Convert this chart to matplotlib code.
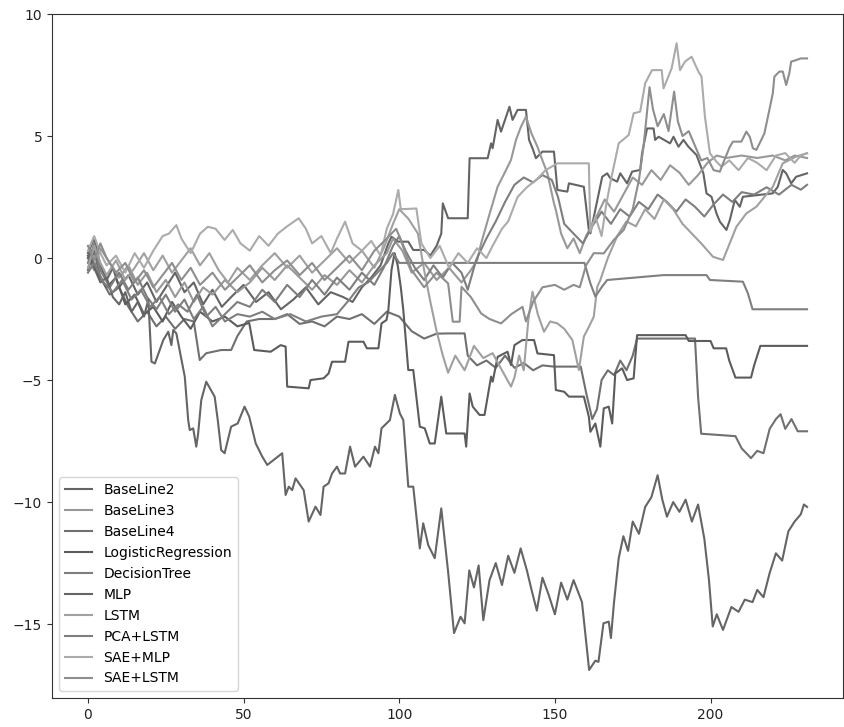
import numpy as np
import matplotlib
matplotlib.use("Agg")
import matplotlib.pyplot as plt

# cumulative return of each strategy, (day, value) pairs
baseline2 = [(0,0.2),(2,0.8),(4,-0.3),(6,-0.9),(8,-0.4),(10,-1.2),(13,-0.7),(16,-1.5),(19,-1.0),(22,-1.8),(25,-1.2),(28,-0.6),(31,-1.4),(34,-1.0),(37,-1.9),(40,-1.3),(43,-2.0),(46,-1.6),(50,-1.1),(54,-1.8),(58,-1.4),(62,-2.1),(66,-1.7),(70,-1.2),(74,-1.9),(78,-1.4),(82,-1.6),(85,-1.8),(88,-1.2),(91,-0.8),(94,-0.3),(96.5,0.6),(97.5,0.87),(99.7,0.67),(102.9,0.67),(104.5,0.33),(108,0.33),(110,0.1),(112,0.5),(113.5,1.0),(114,2.24),(115.7,1.63),(122,1.63),(122.6,4.09),(128.4,4.09),(129.5,4.7),(130,4.5),(131.6,5.66),(132.7,5.18),(135.4,6.2),(136.4,5.66),(138,6.07),(140.7,6.07),(141.7,4.84),(142.8,4.5),(143.9,4.09),(146,4.36),(149.7,4.36),(150.8,2.79),(154,2.72),(154.5,3.06),(159.3,2.92),(160.9,1.15),(161.4,1.01),(165.2,3.33),(166.8,3.47),(167.8,3.27),(170,3.13),(171,3.47),(173.2,3.06),(174.8,3.54),(177.4,3.61),(178,4.29),(179.6,5.31),(181.7,5.31),(182.2,4.84),(183.3,4.97),(187,4.7),(188.1,4.97),(189.7,4.56),(191.3,4.84),(192.9,4.56),(195.5,4.22),(197.7,3.47),(198.7,2.65),(200.3,2.51),(201.9,1.83),(203,1.49),(205.1,1.15),(206.2,1.56),(207.8,2.38),(209.4,2.1),(210.4,2.51),(220,2.65),(221.6,2.92),(223.2,3.61),(224.3,3.47),(225.9,3.06),(227.5,3.33),(231,3.47)]

baseline3 = [(0,0.0),(2,-0.5),(4,0.4),(7,-0.2),(10,-0.8),(13,-0.3),(16,-1.1),(19,-0.6),(22,-1.4),(25,-0.9),(28,-1.6),(31,-1.0),(34,-1.8),(37,-1.2),(40,-1.5),(44,-0.9),(48,-1.4),(52,-1.0),(56,-0.4),(60,-0.9),(64,-0.3),(68,-0.8),(72,-1.3),(76,-0.7),(80,-1.1),(84,-0.5),(88,-1.0),(92,-0.3),(96,0.2),(98,0.8),(101,0.3),(104,-0.6),(108,-0.2),(112,-0.9),(116,-0.4),(120,-1.0),(123,-0.5),(125,-0.1),(126.3,0.6),(129,1.8),(131.6,2.92),(133.5,3.4),(135.9,4.02),(137.5,4.84),(139.1,5.38),(140.7,5.79),(142.5,5.1),(144.4,4.56),(146,4.0),(147.6,3.47),(149.7,2.24),(150.3,1.97),(152,1.0),(154,0.4),(156,0.8),(158,0.2),(160,0.9),(163,1.6),(166,2.4),(169,1.9),(172,2.6),(175,3.3),(178,3.0),(181,3.6),(184,3.2),(187,3.8),(190,3.5),(193,3.0),(196,3.4),(199,3.9),(202,4.2),(205,4.1),(210,4.2),(215,4.1),(220,4.2),(224,4.0),(227,4.2),(231,4.1)]

baseline4 = [(0,-0.5),(2,0.3),(4,-0.8),(7,-1.5),(10,-1.2),(13,-2.0),(16,-2.6),(19,-2.2),(22,-2.8),(25,-2.4),(28,-2.9),(31,-2.5),(34,-2.6),(35.9,-4.18),(38,-3.9),(42.8,-3.77),(46,-3.77),(48,-3.2),(51,-2.6),(55,-2.5),(60,-2.5),(64,-2.3),(68,-2.7),(72,-2.6),(76,-2.8),(80,-2.4),(84,-2.5),(88,-2.3),(92,-2.7),(96,-2.2),(100,-2.4),(104,-3.0),(108,-3.3),(112,-3.1),(115.7,-3.09),(121,-3.09),(122,-4.0),(125,-4.4),(128,-4.2),(131,-4.5),(134,-4.0),(137,-4.5),(140,-4.3),(143,-4.6),(146,-4.4),(149.7,-4.45),(158.3,-4.45),(160,-5.5),(162,-6.6),(163.5,-6.2),(165,-5.0),(167,-4.6),(169,-4.8),(171,-4.2),(173,-4.6),(175,-4.0),(176.4,-3.3),(195,-3.3),(196,-5.7),(197,-7.2),(208,-7.3),(210,-7.8),(213,-8.2),(215,-7.9),(217,-8.0),(219,-7.0),(221,-6.6),(222.5,-6.4),(224,-7.0),(226,-6.6),(228,-7.1),(231,-7.1)]

logistic = [(0,0.1),(3,-0.6),(6,-1.2),(9,-0.8),(12,-1.9),(15,-1.5),(18,-2.3),(21,-2.0),(24,-2.6),(27,-1.8),(30,-2.4),(33,-2.9),(36,-2.2),(40,-2.6),(44,-2.4),(48,-2.8),(51.8,-2.66),(53.4,-3.77),(58.7,-3.84),(61.9,-3.57),(63.5,-3.63),(64,-5.27),(70.9,-5.34),(71.5,-5.0),(75.7,-4.93),(77.3,-4.73),(78.4,-4.25),(82.6,-4.25),(83.7,-3.43),(88.5,-3.43),(89.6,-3.7),(93.3,-3.7),(94.3,-2.68),(95.9,-2.54),(96.5,-2.13),(97.5,-0.5),(98.5,0.2),(99.5,-0.3),(100.5,-1.2),(101.3,-2.13),(102.9,-4.59),(104.5,-4.59),(106.6,-6.91),(108.2,-6.98),(109.8,-7.6),(111.4,-7.6),(113.5,-5.68),(115.1,-7.19),(121,-7.19),(121.5,-7.73),(122.6,-5.55),(123.6,-6.09),(125.8,-6.43),(127.4,-6.43),(129.5,-4.86),(130,-5.07),(131.6,-4.05),(134.8,-3.84),(135.9,-4.39),(137,-3.57),(139.6,-3.36),(143.3,-3.36),(144.4,-3.91),(149.7,-3.98),(150.3,-5.41),(153,-5.48),(154.5,-5.68),(159.3,-5.68),(160.9,-6.5),(161.4,-7.12),(163,-6.78),(164.6,-7.73),(165.7,-6.16),(167.3,-6.09),(168.4,-6.78),(169.4,-4.73),(171.6,-4.52),(173.2,-5.0),(175.3,-4.93),(176.4,-3.16),(192,-3.16),(193,-3.4),(200,-3.4),(201,-3.7),(205,-3.7),(206,-4.2),(208,-4.9),(213,-4.9),(214,-4.4),(216,-3.6),(231,-3.6)]

decision_tree = [(0,-0.2),(2,0.6),(4,-0.5),(7,-1.2),(10,-0.6),(13,-1.3),(16,-0.8),(19,-1.6),(22,-2.1),(25,-1.5),(28,-2.2),(31,-1.7),(34,-2.5),(37,-2.0),(40,-2.8),(44,-2.3),(48,-1.8),(52,-2.0),(56,-1.3),(60,-1.8),(64,-1.1),(68,-1.6),(72,-0.9),(76,-1.5),(80,-0.8),(84,-1.3),(88,-0.6),(92,-1.1),(95,-0.4),(98,0.5),(100,0.9),(102,0.3),(105,-0.4),(108,-0.9),(111,-0.3),(114,-0.8),(117,-0.2),(120,-0.6),(122,-1.3),(124.7,-0.08),(128,0.8),(131,1.5),(134,2.3),(137,3.0),(140,3.3),(143,3.1),(146,3.4),(149,3.2),(151,2.5),(153,1.4),(156,1.0),(159,0.6),(162,1.3),(165,1.9),(168,1.4),(171,2.0),(174,1.7),(177,2.3),(180,2.0),(183,2.6),(186,2.3),(189,1.9),(192,2.4),(195,2.1),(198,1.7),(201,2.2),(204,2.6),(207,2.3),(210,2.7),(214,2.6),(218,2.9),(222,2.6),(226,3.0),(229,2.8),(231,3.0)]

mlp = [(0,0.0),(1,0.3),(2,-0.4),(4,-1.0),(6,-0.8),(8,-1.6),(10,-1.9),(12,-1.4),(14,-2.2),(16,-1.8),(18,-2.4),(19.4,-1.7),(20.4,-4.25),(21.5,-4.32),(24.2,-3.36),(25.8,-3.02),(26.8,-3.57),(27.4,-2.95),(28.4,-3.09),(31.1,-4.86),(32.2,-6.64),(32.7,-7.05),(33.8,-6.98),(34.8,-7.73),(35.4,-7.19),(36.4,-5.82),(38,-5.07),(40.7,-5.68),(41.7,-6.64),(42.8,-7.87),(43.9,-8.0),(46,-6.91),(48.1,-6.78),(50.3,-6.09),(51.8,-6.5),(53.9,-7.6),(56,-8.14),(57.6,-8.48),(62.4,-8.0),(63.5,-9.71),(64.5,-9.37),(65.6,-9.51),(66.7,-9.03),(69.3,-9.51),(70.9,-10.8),(73.1,-10.19),(74.7,-10.53),(75.7,-9.37),(77.3,-9.23),(78.4,-8.83),(80,-8.55),(81,-8.83),(82.6,-8.83),(84.2,-7.73),(85.8,-8.55),(88.5,-8.14),(90.6,-8.55),(92.2,-7.73),(93.3,-8.0),(94.3,-6.98),(97,-6.64),(98.6,-5.61),(100.2,-6.37),(101.3,-6.64),(102.9,-9.37),(104.5,-9.37),(106.6,-11.9),(107.7,-10.87),(109.3,-11.76),(111.4,-12.3),(113.5,-10.26),(115.7,-12.86),(117.6,-15.37),(119.7,-14.7),(121,-14.97),(122.5,-12.8),(124,-13.5),(125.5,-12.6),(127,-14.84),(129,-13.2),(131,-12.5),(133,-13.4),(135,-12.2),(137,-12.9),(139,-11.9),(141,-12.8),(142.5,-13.6),(144.2,-14.45),(146,-13.1),(148,-13.8),(150,-14.6),(152,-13.3),(154,-14.0),(156,-13.2),(158.7,-14.1),(161,-16.88),(163,-16.5),(164,-16.55),(165.6,-14.97),(167.3,-14.9),(168,-15.57),(169,-14.1),(170.5,-12.3),(172,-11.4),(173.5,-12.0),(175,-10.8),(177,-11.3),(179,-10.2),(181,-9.8),(183,-8.9),(184.5,-9.9),(186,-10.6),(188,-10.0),(190,-10.4),(192,-9.9),(194,-10.8),(196,-10.1),(198,-11.5),(199.5,-13.2),(200.7,-15.1),(202,-14.6),(204,-15.24),(206.7,-14.3),(209,-14.5),(211,-14.0),(213.5,-14.1),(215,-13.6),(217,-13.9),(219,-12.9),(221,-12.1),(223,-12.4),(225,-11.2),(227,-10.8),(229,-10.5),(230,-10.1),(231,-10.2)]

lstm = [(0,-0.4),(2,0.5),(4,-0.2),(6,-0.7),(9,-0.1),(12,-0.9),(15,-0.4),(18,0.2),(21,-0.5),(24,0.1),(27,-0.6),(30,-0.1),(33,0.4),(36,-0.3),(39,0.2),(42,-0.5),(45,-1.0),(48,-0.4),(52,-0.9),(56,-0.3),(60,0.2),(64,-0.4),(68,0.1),(72,-0.6),(76,-0.1),(80,0.4),(84,-0.2),(88,0.3),(92,-0.4),(95,0.4),(98,1.4),(100,2.0),(103,1.6),(106,1.0),(108,-0.5),(110,-1.8),(112,-3.0),(114,-4.0),(115.7,-4.7),(118,-4.0),(121,-4.6),(124,-3.6),(127,-4.1),(130,-3.9),(133,-4.6),(135.9,-5.27),(137,-4.9),(138.5,-4.0),(140,-4.6),(141.5,-2.5),(142.8,-1.38),(144.5,-2.3),(146.5,-3.02),(148.5,-2.6),(150.8,-2.68),(153,-2.9),(155.6,-3.36),(157.7,-4.59),(159.3,-3.22),(161,-2.8),(162.5,-2.4),(163.6,-1.18),(164.6,-0.9),(167,0.0),(170,0.9),(173,1.5),(176,1.3),(179,2.0),(182,1.6),(185,2.4),(188,2.0),(191,1.4),(194,1.0),(197,0.6),(200.8,0.05),(204,-0.08),(208.3,1.28),(211.5,1.83),(214.7,2.1),(220,2.92),(223.2,3.88),(227.5,4.16),(231,4.29)]

pca_lstm = [(0,-0.6),(2,-0.2),(5,-1.0),(8,-1.4),(11,-0.9),(14,-1.7),(17,-1.3),(20,-2.0),(23,-1.6),(26,-2.3),(29,-1.9),(32,-2.2),(35,-1.5),(38,-2.4),(41,-2.0),(44,-2.6),(48,-2.3),(52,-2.4),(56,-2.2),(60,-2.5),(65,-2.3),(70,-2.6),(75,-2.4),(80,-2.3),(84,-1.7),(87,-1.2),(90,-1.0),(93,-0.6),(96,-0.2),(98,0.2),(100,-0.2),(159.5,-0.2),(161.4,-1.04),(163,-1.58),(165,-1.2),(166.8,-0.9),(184.9,-0.7),(198.7,-0.7),(199.8,-0.9),(210.4,-0.97),(212,-1.45),(213.5,-2.1),(231,-2.1)]

sae_mlp = [(0,0.3),(2,0.9),(4,0.2),(6,-0.3),(9,0.1),(12,-0.6),(15,0.2),(18,-0.4),(21,0.3),(24,0.9),(26,1.0),(28.4,1.35),(30,0.8),(33,0.2),(36,1.0),(38.5,1.28),(41,1.2),(43.9,0.74),(46.5,1.15),(49,0.6),(52,0.3),(55,0.9),(58,0.5),(61,1.0),(64,1.3),(67.7,1.63),(70,1.2),(72,0.6),(75,0.9),(78,0.2),(80,0.8),(82.6,1.49),(85,0.6),(88,0.3),(91,0.7),(94,0.1),(96,1.2),(98,1.8),(99.7,2.79),(100.5,2.0),(105.5,2.03),(107.1,0.6),(110,0.0),(113,0.5),(116,-0.4),(119,0.2),(122,-0.2),(125,0.4),(128,0.0),(130,0.5),(133,1.2),(135,1.5),(138,2.5),(141,2.9),(144,3.2),(147,3.6),(150.8,3.88),(160.9,3.88),(161.4,1.08),(163,1.7),(165,0.9),(166.5,2.2),(168,3.2),(170.5,4.7),(173.7,5.04),(175.3,5.93),(177.4,6.0),(179,7.16),(181.2,7.7),(184.3,7.7),(184.9,6.95),(187.5,7.77),(189.1,8.8),(190.2,7.7),(191.8,8.05),(193.9,8.25),(196.1,7.64),(197.1,7.43),(198.2,5.79),(199.8,4.29),(201.9,3.95),(203.5,3.74),(206,4.0),(209,3.6),(212,4.1),(215,3.9),(218,3.6),(221,4.2),(224,4.3),(227,3.9),(229,4.2),(231,4.3)]

sae_lstm = [(0,0.5),(2,-0.1),(4,0.6),(6,0.0),(9,-0.6),(12,-0.2),(15,-1.0),(18,-0.5),(21,-1.2),(24,-0.7),(27,-0.2),(30,-0.9),(33,-0.4),(36,-1.1),(40,-0.6),(44,-1.3),(48,-0.8),(52,-0.3),(56,-1.0),(60,-0.5),(64,-0.1),(68,-0.7),(72,-0.2),(76,-0.9),(80,-0.4),(84,0.1),(88,-0.5),(92,0.3),(96,0.8),(99,1.2),(100,0.9),(104,-0.5),(108,-1.2),(112,-0.6),(115.7,-1.04),(117.2,-2.61),(119.4,-2.61),(120,-1.18),(123,-1.6),(126.3,-2.27),(129,-2.5),(132.7,-2.68),(136,-2.3),(139.6,-2.0),(140.7,-2.6),(143,-1.8),(146,-1.2),(150,-1.1),(153,-1.3),(156,-1.1),(158,-1.2),(160,-0.3),(162.5,0.2),(165.7,0.19),(168.9,0.74),(172.1,1.15),(175,2.0),(177,3.2),(178.5,4.6),(180.4,7.0),(181.5,6.1),(183,5.4),(185,5.9),(186.5,5.2),(188.3,6.82),(189.5,5.6),(191,5.0),(193,5.2),(195,4.6),(197,4.0),(199,4.1),(201,3.6),(203,3.54),(204,3.88),(206.2,4.56),(207.2,4.77),(209.9,4.77),(211.5,5.18),(212.6,4.97),(213.6,4.5),(214.7,4.43),(216.3,4.84),(217.3,5.11),(218.9,6.07),(220,6.75),(220.5,7.43),(222.1,7.64),(223.2,7.64),(224.3,7.09),(225.3,7.57),(225.9,8.05),(227.5,8.11),(229,8.18),(231,8.18)]

labels = ["BaseLine2", "BaseLine3", "BaseLine4", "LogisticRegression", "DecisionTree",
          "MLP", "LSTM", "PCA+LSTM", "SAE+MLP", "SAE+LSTM"]
series = [baseline2, baseline3, baseline4, logistic, decision_tree,
          mlp, lstm, pca_lstm, sae_mlp, sae_lstm]
# default colour cycle rendered in grey
greys = ["#646464", "#989898", "#707070", "#5c5c5c", "#7e7e7e",
         "#656565", "#a0a0a0", "#7f7f7f", "#ababab", "#8e8e8e"]

fig = plt.figure(figsize=(8.44, 7.27), dpi=100)
ax = fig.add_axes([52/844, 29/727, 791/844, 684/727])

for pts, lab, c in zip(series, labels, greys):
	arr = np.array(pts)
	ax.plot(arr[:, 0], arr[:, 1], color=c, lw=1.5, label=lab)

ax.set_xlim(-11.55, 242.55)
ax.set_ylim(-18.03, 10.0)
ax.set_xticks([0, 50, 100, 150, 200])
ax.set_yticks([-15, -10, -5, 0, 5, 10])
for sp in ax.spines.values():
	sp.set_color("#333333")
ax.tick_params(colors="#333333", labelcolor="#222222")
ax.legend(loc="lower left", fontsize=10)

fig.savefig("out.png", dpi=100)
